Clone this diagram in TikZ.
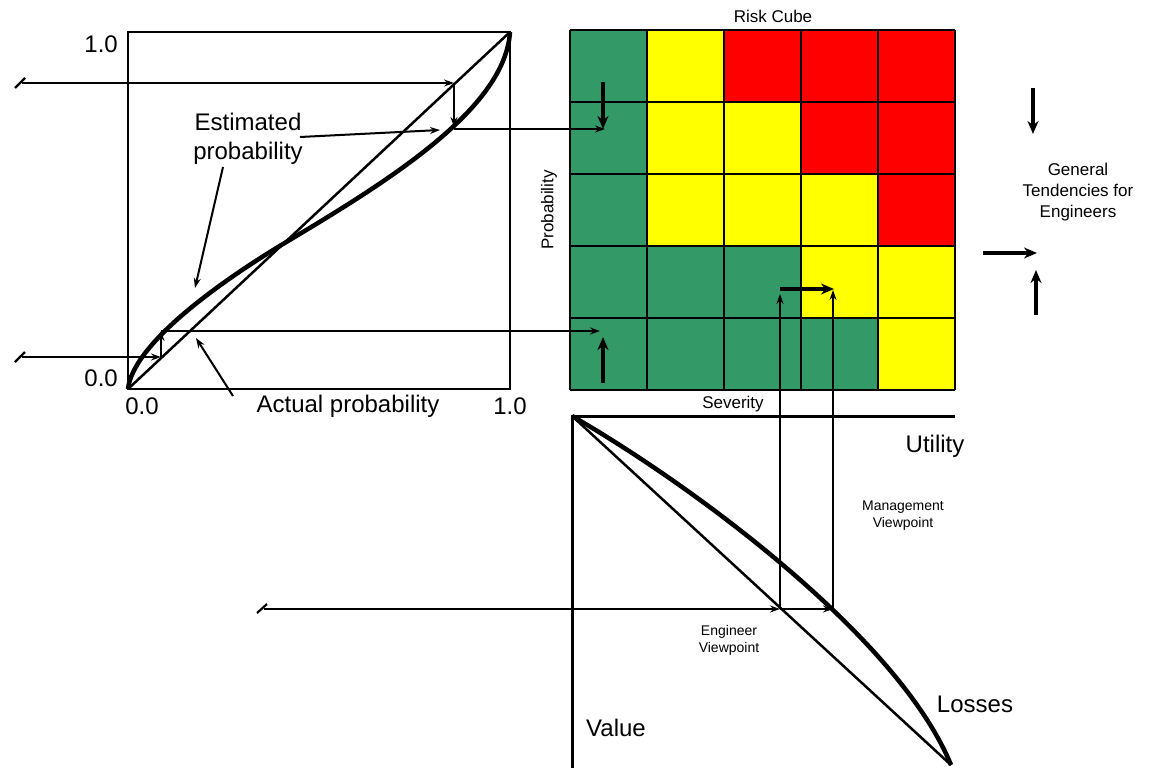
\documentclass[tikz,border=0pt]{standalone}
\usepackage{fontspec}
\setmainfont{Liberation Sans}
\usetikzlibrary{arrows.meta}
\definecolor{cgreen}{HTML}{339966}
\definecolor{cyellow}{HTML}{FFFF00}
\definecolor{cred}{HTML}{FF0000}
\begin{document}
\begin{tikzpicture}[x=1pt,y=-1pt,
  big/.style={font=\fontsize{24}{29}\selectfont, inner sep=0pt, align=center},
  small/.style={font=\fontsize{17}{21}\selectfont, inner sep=0pt, align=center},
  tiny/.style={font=\fontsize{14}{17}\selectfont, inner sep=0pt, align=center},
  frame/.style={line width=2.2pt},
  gridline/.style={line width=2.2pt},
  thincurve/.style={line width=2.5pt},
  thickcurve/.style={line width=4.5pt},
  thinarrow/.style={line width=2pt, -{Stealth[length=10pt,width=7pt]}},
  boldarrow/.style={line width=3.5pt, -{Stealth[length=13pt,width=11pt]}},
  tail/.style={line width=2.2pt},
]
\useasboundingbox (0,0) rectangle (1162,768);

% ---------- Risk cube ----------
\foreach \c [count=\i from 0] in {cgreen,cyellow,cred,cred,cred}
  \fill[\c] (570+77*\i,30) rectangle ++(77,72);
\foreach \c [count=\i from 0] in {cgreen,cyellow,cyellow,cred,cred}
  \fill[\c] (570+77*\i,102) rectangle ++(77,72);
\foreach \c [count=\i from 0] in {cgreen,cyellow,cyellow,cyellow,cred}
  \fill[\c] (570+77*\i,174) rectangle ++(77,72);
\foreach \c [count=\i from 0] in {cgreen,cgreen,cgreen,cyellow,cyellow}
  \fill[\c] (570+77*\i,246) rectangle ++(77,72);
\foreach \c [count=\i from 0] in {cgreen,cgreen,cgreen,cgreen,cyellow}
  \fill[\c] (570+77*\i,318) rectangle ++(77,72);
\foreach \i in {0,...,5} {
  \draw[gridline] (570+77*\i,30) -- (570+77*\i,390);
  \draw[gridline] (570,30+72*\i) -- (955,30+72*\i);
}
\node[small] (rc) at (773,16) {Risk Cube};
\node[small] (sev) at (733,404) {Severity};
\node[small, rotate=90] (prob) at (549,210) {Probability};

% ---------- Left plot ----------
\coordinate (O) at (128,389);
\coordinate (TR) at (510,32);
\draw[frame] (128,32) rectangle (510,389);
\draw[thincurve] (O) -- (TR);
\draw[thickcurve] (O) .. controls (133,345) and (215,285) .. (283,244)
  .. controls (385,183) and (505,110) .. (TR);

\node[big, anchor=east] (l10) at (118,44) {1.0};
\node[big, anchor=east] (l00) at (118,378) {0.0};
\node[big] (b00) at (142,406) {0.0};
\node[big] (b10) at (510,406) {1.0};
\node[big] (actual) at (348,406) {Actual probability};
\node[big] (est) at (248,139) {Estimated\\probability};

% upper path
\coordinate (t1) at (22,83);
\coordinate (d1) at (454,83);
\coordinate (c1) at (454,127);
\coordinate (s1) at (454,129);
\coordinate (e1) at (605,129);
\draw[tail] (15,88) -- (25,78);
\draw[thinarrow] (t1) -- (d1);
\draw[thinarrow] (d1) -- (c1);
\draw[thinarrow] (s1) -- (e1);

% lower path
\coordinate (t2) at (22,357);
\coordinate (d2) at (161,357);
\coordinate (c2) at (161,331);
\coordinate (e2) at (600,331);
\draw[tail] (15,362) -- (25,352);
\draw[thinarrow] (t2) -- (d2);
\draw[thinarrow] (d2) -- (c2);
\draw[thinarrow] (c2) -- (e2);

% label arrows
\coordinate (ea1) at (300,137);
\coordinate (eb1) at (440,130);
\coordinate (ea2) at (223,167);
\coordinate (eb2) at (195,288);
\coordinate (aa) at (233,396);
\coordinate (ab) at (196,338);
\draw[thinarrow] (ea1) -- (eb1);
\draw[thinarrow] (ea2) -- (eb2);
\draw[thinarrow] (aa) -- (ab);

% bold arrows in cube
\coordinate (da) at (603,82);
\coordinate (db) at (603,129);
\draw[boldarrow] (da) -- (db);
\coordinate (ua) at (603,383);
\coordinate (ub) at (603,337);
\draw[boldarrow] (ua) -- (ub);
\coordinate (ra) at (780,289);
\coordinate (rb) at (834,289);
\draw[boldarrow] (ra) -- (rb);

% ---------- Right legend ----------
\coordinate (g1a) at (1033,88);
\coordinate (g1b) at (1033,134);
\draw[boldarrow] (g1a) -- (g1b);
\coordinate (g2a) at (983,253);
\coordinate (g2b) at (1037,253);
\draw[boldarrow] (g2a) -- (g2b);
\coordinate (g3a) at (1036,315);
\coordinate (g3b) at (1036,270);
\draw[boldarrow] (g3a) -- (g3b);
\node[small] (gen) at (1078,192) {General\\Tendencies for\\Engineers};

% ---------- Bottom utility chart ----------
\coordinate (U0) at (572,416);
\coordinate (UE) at (951,765);
\draw[line width=3pt] (955,416) -- (U0) -- (572,768);
\draw[thincurve] (U0) -- (UE);
\draw[thickcurve] (U0) .. controls (700,490) and (900,640) .. (UE);
\node[big] (util) at (935,446) {Utility};
\node[big] (loss) at (975,704) {Losses};
\node[big] (val) at (616,728) {Value};
\node[tiny] (mgmt) at (903,516) {Management\\Viewpoint};
\node[tiny] (eng) at (729,640) {Engineer\\Viewpoint};

\coordinate (h0) at (264,609);
\coordinate (h1) at (780,609);
\coordinate (h2) at (833,609);
\coordinate (v1) at (780,294);
\coordinate (v2) at (833,290);
\draw[tail] (257,613) -- (267,604);
\draw[thinarrow] (h0) -- (h1);
\draw[thinarrow] (h1) -- (h2);
\draw[thinarrow] (h1) -- (v1);
\draw[thinarrow] (h2) -- (v2);
\end{tikzpicture}
\end{document}
